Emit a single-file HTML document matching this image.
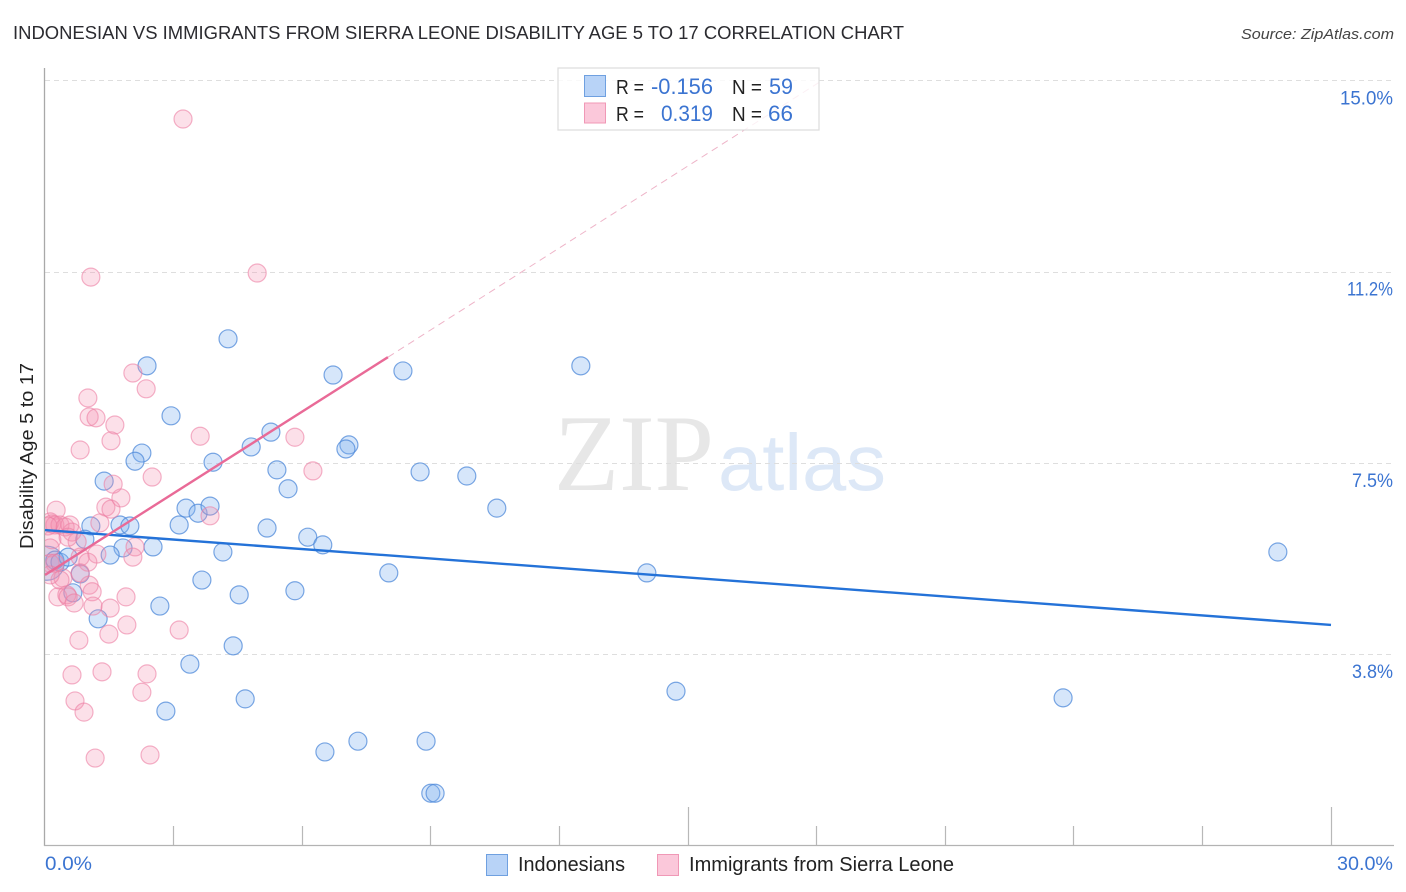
<!DOCTYPE html>
<html lang="en">
<head>
<meta charset="utf-8">
<title>Indonesian vs Immigrants from Sierra Leone Disability Age 5 to 17 Correlation Chart</title>
<style>
html,body{margin:0;padding:0;background:#fff;}
body{width:1406px;height:892px;overflow:hidden;}
svg{display:block;font-family:"Liberation Sans",sans-serif;}
</style>
</head>
<body>
<svg id="chart" xmlns="http://www.w3.org/2000/svg" width="1406" height="892" viewBox="0 0 1406 892">
  <defs>
    <clipPath id="plotClip"><rect x="45" y="60" width="1350" height="786"/></clipPath>
  </defs>
  <rect x="0" y="0" width="1406" height="892" fill="#ffffff"/>
  <text x="13" y="39" font-size="18.5" fill="#2b2b30" textLength="891" lengthAdjust="spacingAndGlyphs">INDONESIAN VS IMMIGRANTS FROM SIERRA LEONE DISABILITY AGE 5 TO 17 CORRELATION CHART</text>
  <text x="1394" y="39" font-size="15" font-style="italic" fill="#444" text-anchor="end" textLength="153" lengthAdjust="spacingAndGlyphs">Source: ZipAtlas.com</text>
  <g>
    <text x="554" y="490" font-family="'Liberation Serif',serif" font-size="109" fill="#e7e7e7" textLength="160" lengthAdjust="spacingAndGlyphs">ZIP</text>
    <text x="718" y="490" font-size="80" fill="#dde8f7" textLength="168" lengthAdjust="spacingAndGlyphs">atlas</text>
  </g>
  <g id="grid"></g>
  <g id="axes"></g>
  <g id="bluePoints" clip-path="url(#plotClip)"></g>
  <g id="pinkPoints" clip-path="url(#plotClip)"></g>
  <g id="trends"></g>
  <text transform="translate(33,549) rotate(-90)" font-size="18" fill="#222" textLength="186" lengthAdjust="spacingAndGlyphs">Disability Age 5 to 17</text>

  <g>
    <rect x="558" y="68" width="261" height="62" fill="#ffffff" fill-opacity="0.8" stroke="#dcdcdc" stroke-width="1.2"/>
    <rect x="584.5" y="75.5" width="21" height="21" fill="#b8d3f7" stroke="#6fa0e0" stroke-width="1"/>
    <rect x="584.5" y="103" width="21" height="20" fill="#fbc8da" stroke="#f098b6" stroke-width="1"/>
    <text x="616" y="94" font-size="20" fill="#222" textLength="28" lengthAdjust="spacingAndGlyphs">R =</text>
    <text x="651" y="94" font-size="22" fill="#3b74d1" textLength="62" lengthAdjust="spacingAndGlyphs">-0.156</text>
    <text x="732" y="94" font-size="20" fill="#222" textLength="30" lengthAdjust="spacingAndGlyphs">N =</text>
    <text x="769" y="94" font-size="22" fill="#3b74d1" textLength="24" lengthAdjust="spacingAndGlyphs">59</text>
    <text x="616" y="121" font-size="20" fill="#222" textLength="28" lengthAdjust="spacingAndGlyphs">R =</text>
    <text x="661" y="121" font-size="22" fill="#3b74d1" textLength="52" lengthAdjust="spacingAndGlyphs">0.319</text>
    <text x="732" y="121" font-size="20" fill="#222" textLength="30" lengthAdjust="spacingAndGlyphs">N =</text>
    <text x="768" y="121" font-size="22" fill="#3b74d1" textLength="25" lengthAdjust="spacingAndGlyphs">66</text>
  </g>

  <g>
    <rect x="486.5" y="854.5" width="21" height="21" fill="#b8d3f7" stroke="#6fa0e0" stroke-width="1"/>
    <text x="518" y="871" font-size="20" fill="#222" textLength="107" lengthAdjust="spacingAndGlyphs">Indonesians</text>
    <rect x="657.5" y="854.5" width="21" height="21" fill="#fbc8da" stroke="#f098b6" stroke-width="1"/>
    <text x="689" y="871" font-size="20" fill="#222" textLength="265" lengthAdjust="spacingAndGlyphs">Immigrants from Sierra Leone</text>
  </g>
</svg>
<script>
const xTickValues = [0, 3, 6, 9, 12, 15, 18, 21, 24, 27, 30];
const xTickLabels = ['0.0%', '30.0%'];
const yTickValues = [3.75, 7.5, 11.25, 15];
const yTickLabels = ['3.8%', '7.5%', '11.2%', '15.0%'];

const blueX = [2.38,4.27,2.94,6.72,8.35,12.50,5.27,2.26,2.10,4.81,7.09,7.02,3.92,5.41,1.38,5.67,8.75,9.84,10.54,3.29,3.57,3.85,3.13,1.07,1.75,1.98,5.18,6.13,0.93,1.82,2.52,1.52,4.15,6.48,28.76,0.05,0.23,0.35,0.54,0.82,8.02,14.04,3.66,0.65,4.53,5.83,2.68,1.24,4.39,3.38,14.72,4.67,23.75,2.82,6.53,7.30,8.89,9.00,9.10];
const blueY = [9.40,9.93,8.42,9.22,9.30,9.40,8.10,7.69,7.53,7.81,7.85,7.77,7.51,7.36,7.14,6.99,7.32,7.24,6.61,6.61,6.51,6.65,6.28,6.26,6.28,6.26,6.22,6.04,6.00,5.83,5.85,5.69,5.75,5.89,5.75,5.53,5.59,5.55,5.65,5.32,5.34,5.34,5.20,4.95,4.91,4.99,4.69,4.44,3.91,3.55,3.02,2.87,2.89,2.63,1.83,2.04,2.04,1.02,1.02];
const blueLargeIndex = 35;

const pinkX = [3.22,4.95,1.07,2.05,2.36,1.00,1.03,1.19,1.63,1.54,3.62,5.83,0.82,6.25,2.50,1.77,1.59,0.26,1.42,1.54,3.85,1.28,0.12,0.16,0.23,0.35,0.47,0.63,0.07,0.16,0.12,0.75,2.10,2.05,1.21,0.82,1.00,0.82,0.42,0.35,1.03,1.10,0.30,0.51,0.54,0.68,1.12,1.52,1.89,1.91,3.13,1.49,0.79,0.63,1.33,2.38,0.70,2.26,0.91,1.17,2.45,0.12,0.23,0.12,0.58,0.54];
const pinkY = [14.24,11.22,11.14,9.26,8.95,8.77,8.40,8.38,8.24,7.93,8.02,8.00,7.75,7.34,7.22,6.81,7.08,6.57,6.63,6.59,6.46,6.32,6.34,6.30,6.28,6.28,6.24,6.14,6.26,5.99,5.83,5.95,5.85,5.65,5.71,5.65,5.55,5.34,5.24,5.20,5.10,4.97,4.87,4.91,4.87,4.75,4.69,4.65,4.87,4.32,4.22,4.14,4.02,3.34,3.40,3.36,2.83,3.00,2.61,1.71,1.77,5.53,5.53,5.30,6.28,6.04];

const blueTrendX = [0, 30];
const blueTrendY = [6.18, 4.32];
const pinkTrendX = [0, 8];
const pinkTrendY = [5.30, 9.57];
const pinkExtensionX = [8, 18.08];
const pinkExtensionY = [9.57, 14.97];

const SVG_NS = 'http://www.w3.org/2000/svg';
function xScale(v) { return 45 + v * (1331 - 45) / 30; }
function yScale(v) { return 654 - (v - 3.75) * 51; }
function make(tag, attrs, parent) {
  const el = document.createElementNS(SVG_NS, tag);
  Object.keys(attrs).forEach(function (k) { el.setAttribute(k, attrs[k]); });
  parent.appendChild(el);
  return el;
}

const grid = document.getElementById('grid');
const yLabelFit = {'3.8%': 41, '7.5%': 41, '11.2%': 46, '15.0%': 53};
yTickValues.forEach(function (v, i) {
  const y = Math.round(yScale(v)) + 0.5;
  const line = make('line', {x1: 45, x2: 1394, y1: y, y2: y, stroke: '#dedede', 'stroke-width': 1, 'stroke-dasharray': '5 4'}, grid);
  
  
  const label = make('text', {x: 1393, y: yScale(v) + 24, 'text-anchor': 'end', 'font-size': 19.5, fill: '#3b74d1', textLength: yLabelFit[yTickLabels[i]], lengthAdjust: 'spacingAndGlyphs'}, grid);
  
  
  label.textContent = yTickLabels[i];
});

const axes = document.getElementById('axes');
const yAxisLine = make('line', {x1: 44.5, x2: 44.5, y1: 68, y2: 846, stroke: '#a9a9a9', 'stroke-width': 1.3}, axes);


const xAxisLine = make('line', {x1: 44, x2: 1394, y1: 845.5, y2: 845.5, stroke: '#b3b3b3', 'stroke-width': 1.3}, axes);


xTickValues.forEach(function (v) {
  if (v === 0) return;
  const x = Math.floor(xScale(v)) + 0.5;
  const tall = v % 15 === 0;
  const tick = make('line', {x1: x, x2: x, y1: tall ? 807 : 826, y2: 845, stroke: '#b8b8b8', 'stroke-width': 1.2}, axes);
  
  
});
const xLabelLeft = make('text', {x: 45, y: 870, 'font-size': 19.5, fill: '#3b74d1', textLength: 47, lengthAdjust: 'spacingAndGlyphs'}, axes);


xLabelLeft.textContent = xTickLabels[0];
const xLabelRight = make('text', {x: 1393, y: 870, 'text-anchor': 'end', 'font-size': 19.5, fill: '#3b74d1', textLength: 56, lengthAdjust: 'spacingAndGlyphs'}, axes);


xLabelRight.textContent = xTickLabels[1];

const blueGroup = document.getElementById('bluePoints');
blueX.forEach(function (v, i) {
  const c = make('circle', {cx: xScale(v), cy: yScale(blueY[i]), r: i === blueLargeIndex ? 17 : 9, fill: '#7fb0ee', 'fill-opacity': 0.32, stroke: '#4f8ada', 'stroke-opacity': 0.75, 'stroke-width': 1.2}, blueGroup);
  
  
});
const pinkGroup = document.getElementById('pinkPoints');
pinkX.forEach(function (v, i) {
  const c = make('circle', {cx: xScale(v), cy: yScale(pinkY[i]), r: 9, fill: '#f48fb1', 'fill-opacity': 0.28, stroke: '#ec7ea4', 'stroke-opacity': 0.6, 'stroke-width': 1.2}, pinkGroup);
  
  
});

const trends = document.getElementById('trends');
const blueTrend = make('line', {x1: xScale(blueTrendX[0]), y1: yScale(blueTrendY[0]), x2: xScale(blueTrendX[1]), y2: yScale(blueTrendY[1]), stroke: '#2472d8', 'stroke-width': 2.4}, trends);


const pinkTrend = make('line', {x1: xScale(pinkTrendX[0]), y1: yScale(pinkTrendY[0]), x2: xScale(pinkTrendX[1]), y2: yScale(pinkTrendY[1]), stroke: '#e96a97', 'stroke-width': 2.4}, trends);


const pinkExt = make('line', {x1: xScale(pinkExtensionX[0]), y1: yScale(pinkExtensionY[0]), x2: xScale(pinkExtensionX[1]), y2: yScale(pinkExtensionY[1]), stroke: '#eeb4c8', 'stroke-width': 1, 'stroke-dasharray': '7 5'}, trends);


</script>
</body>
</html>
